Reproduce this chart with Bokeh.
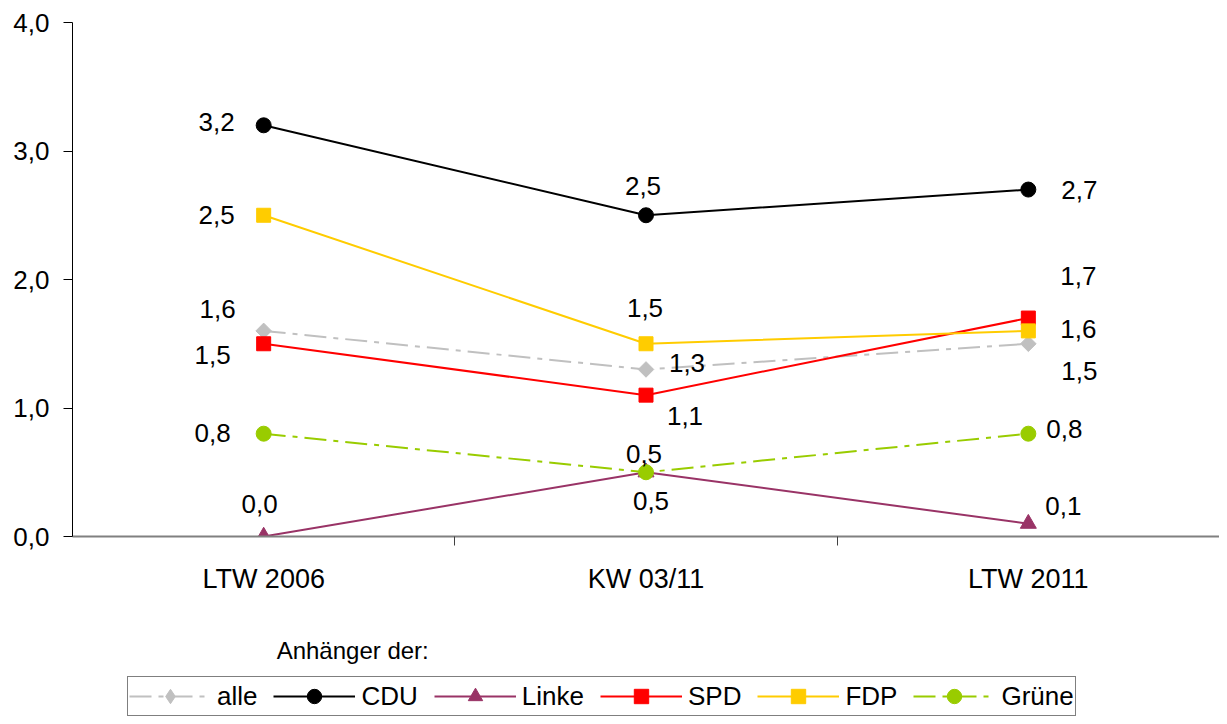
import math
from bokeh.plotting import figure
from bokeh.layouts import column
from bokeh.models import (Range1d, FixedTicker, LinearAxis, Legend, LegendItem,
                          Label, ColumnDataSource)
from bokeh.core.properties import value
from bokeh.embed import file_html
from bokeh.resources import INLINE

# ---- data ----
categories = ["LTW 2006", "KW 03/11", "LTW 2011"]
series_names = ["alle", "CDU", "Linke", "SPD", "FDP", "Grüne"]
alle = [1.6, 1.3, 1.5]
cdu = [3.2, 2.5, 2.7]
linke = [0.0, 0.5, 0.1]
spd = [1.5, 1.1, 1.7]
fdp = [2.5, 1.5, 1.6]
gruene = [0.8, 0.5, 0.8]
y_ticks = [0, 1, 2, 3, 4]
y_tick_labels = ["0,0", "1,0", "2,0", "3,0", "4,0"]
legend_title = "Anhänger der:"

# ---- styles ----
colors = ["#C0C0C0", "#000000", "#993366", "#FF0000", "#FFCC00", "#99CC00"]
markers = ["square", "circle", "triangle", "square", "square", "circle"]
key_markers = ["diamond", "circle", "triangle", "square", "square", "circle"]
marker_angles = [math.pi / 4, 0, 0, 0, 0, 0]
marker_sizes = [11, 15, 16, 14, 14, 15]
dashes = ["22 7 5 7", "solid", "solid", "solid", "solid", "22 7 5 7"]
# label offsets (screen px, dx right, dy down)
label_dx = [[-46, 41, 51], [-47, -3, 51], [-4, 5, 35],
            [-51, 39, 50], [-47, -1, 50], [-51, -2, 36]]
label_dy = [[-22, -6, 27], [-3, -29, 0], [-33, 29, -18],
            [11, 21, -42], [0, -36, -2], [-1, -18, -5]]

FONT = "Liberation Sans"
values_all = [alle, cdu, linke, spd, fdp, gruene]
xpos = [i + 0.5 for i in range(len(categories))]

W = 1219
H1 = 600
H2 = 116
p = figure(width=W, height=H1, output_backend="svg", toolbar_location=None,
           x_range=Range1d(0, 3), y_range=Range1d(0, 4),
           min_border_left=72, min_border_right=0, min_border_top=22,
           min_border_bottom=H1 - 536, x_axis_type=None, y_axis_type=None)
p.outline_line_color = None
p.xgrid.visible = False
p.ygrid.visible = False
p.background_fill_color = "white"
p.border_fill_color = "white"

# y axis
yax = LinearAxis(ticker=FixedTicker(ticks=y_ticks, minor_ticks=[]))
yax.major_label_overrides = {t: l for t, l in zip(y_ticks, y_tick_labels)}
yax.major_label_text_font = FONT
yax.major_label_text_font_size = "26px"
yax.major_label_text_color = "black"
yax.axis_line_color = "black"
yax.axis_line_width = 1
yax.major_tick_line_color = "black"
yax.major_tick_out = 9
yax.major_tick_in = 0
yax.major_label_standoff = 14
p.add_layout(yax, "left")

# x axis
xax = LinearAxis(ticker=FixedTicker(ticks=xpos, minor_ticks=[1, 2]))
xax.major_label_overrides = {x: c for x, c in zip(xpos, categories)}
xax.major_label_text_font = FONT
xax.major_label_text_font_size = "27px"
xax.major_label_text_color = "black"
xax.axis_line_color = "#808080"
xax.axis_line_width = 2
xax.major_tick_line_color = None
xax.major_tick_out = 0
xax.major_tick_in = 0
xax.minor_tick_line_color = "#404040"
xax.minor_tick_out = 9
xax.minor_tick_in = 0
xax.major_label_standoff = 18
p.add_layout(xax, "below")

# lower strip: caption + legend (1 data unit = 1 px vertically; the
# series data lie above this strip's visible range, so only the key shows)
p2 = figure(width=W, height=H2, output_backend="svg", toolbar_location=None,
            x_range=p.x_range, y_range=Range1d(-120 - H2, -120),
            min_border_left=72, min_border_right=0, min_border_top=0,
            min_border_bottom=0, x_axis_type=None, y_axis_type=None)
p2.outline_line_color = None
p2.xgrid.visible = False
p2.ygrid.visible = False
p2.border_fill_color = "white"
p2.background_fill_color = "white"

items = []
for name, vals, col, mk, km, ma, ms, dash, dx, dy in zip(
        series_names, values_all, colors, markers, key_markers, marker_angles,
        marker_sizes, dashes, label_dx, label_dy):
    src = ColumnDataSource(dict(x=xpos, y=vals,
                                t=[("%.1f" % v).replace(".", ",") for v in vals],
                                dx=dx, dy=dy))
    p.line("x", "y", source=src, line_color=col, line_width=2, line_dash=dash)
    p.scatter("x", "y", source=src, marker=mk, size=ms, angle=ma,
              fill_color=col, line_color=col)
    p.text("x", "y", text="t", source=src, x_offset="dx", y_offset="dy",
           text_font=value(FONT), text_font_size="26px", text_color="black",
           text_align="center", text_baseline="middle")
    lr = p2.line("x", "y", source=src, line_color=col, line_width=2, line_dash=dash)
    sr = p2.scatter("x", "y", source=src, marker=km, size=ms,
                    fill_color=col, line_color=col)
    items.append(LegendItem(label=name, renderers=[lr, sr]))

p2.add_layout(Label(x=0.534, y=-170, text=legend_title, text_font=FONT,
                    text_font_size="24px", text_color="black",
                    text_baseline="middle", text_align="left"))

legend = Legend(items=items, orientation="horizontal", location=(55, 0))
legend.label_text_font = FONT
legend.label_text_font_size = "26px"
legend.label_text_color = "black"
legend.glyph_width = 82
legend.glyph_height = 36
legend.label_standoff = 6
legend.spacing = 16
legend.padding = 1
legend.margin = 0
legend.border_line_color = "black"
legend.border_line_width = 1
legend.background_fill_color = "white"
legend.background_fill_alpha = 1
p2.add_layout(legend, "center")

layout = column(p, p2, spacing=0)
open("out.html", "w").write(file_html(layout, INLINE))
